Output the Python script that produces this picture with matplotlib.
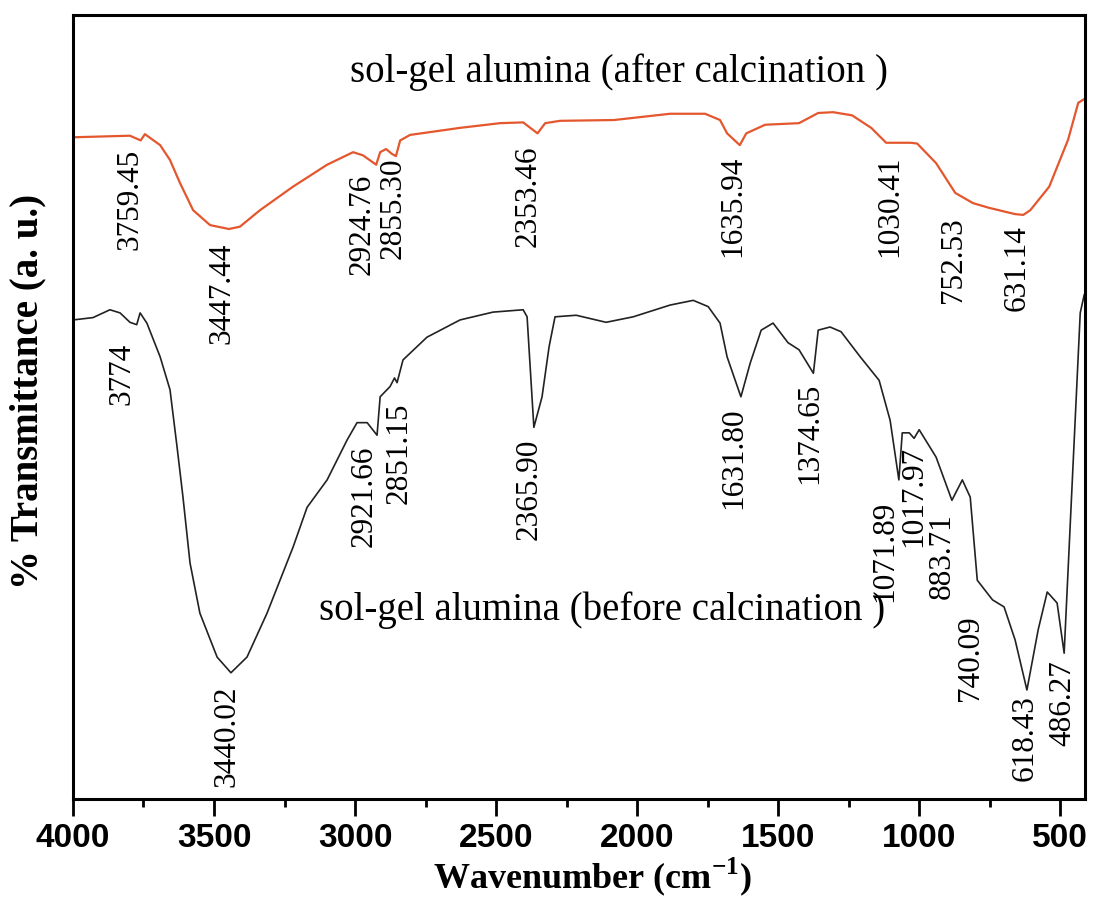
import matplotlib.pyplot as plt

# FTIR of sol-gel alumina, transmittance in arbitrary units
wn_after = [4000, 3798, 3760, 3745, 3691, 3656, 3621, 3574, 3514, 3447, 3408,
            3337, 3220, 3099, 3007, 2972, 2925, 2911, 2890, 2870, 2855, 2840,
            2805, 2628, 2486, 2404, 2353, 2326, 2273, 2082, 1883, 1759, 1706,
            1681, 1636, 1613, 1546, 1426, 1358, 1305, 1238, 1170, 1117, 1030,
            1007, 940, 872, 809, 752, 660, 631, 606, 539, 472, 436, 418]
t_after = [84.4, 84.6, 84.0, 84.8, 83.4, 81.5, 78.6, 75.1, 73.2, 72.7, 73.0,
           75.1, 78.1, 80.9, 82.5, 82.1, 80.9, 82.5, 82.9, 82.3, 82.0, 84.0,
           84.7, 85.6, 86.2, 86.3, 84.9, 86.2, 86.5, 86.6, 87.4, 87.4, 86.6,
           84.9, 83.4, 84.9, 86.0, 86.2, 87.5, 87.6, 87.2, 85.6, 83.7, 83.7,
           83.6, 81.1, 77.3, 76.0, 75.4, 74.6, 74.5, 75.1, 78.1, 84.1, 88.8, 89.2]

wn_before = [4000, 3929, 3869, 3833, 3798, 3774, 3762, 3738, 3691, 3656, 3631,
             3610, 3585, 3550, 3489, 3440, 3383, 3312, 3220, 3170, 3099, 3028,
             2993, 2957, 2922, 2911, 2876, 2860, 2851, 2830, 2745, 2628, 2511,
             2404, 2390, 2366, 2337, 2312, 2291, 2216, 2110, 2014, 1883, 1801,
             1748, 1706, 1681, 1632, 1599, 1560, 1518, 1465, 1426, 1397, 1375,
             1358, 1316, 1277, 1209, 1142, 1103, 1072, 1060, 1035, 1018, 1000,
             940, 884, 847, 819, 794, 740, 699, 660, 618, 578, 546, 511, 486,
             457, 429, 415]
t_before = [61.1, 61.4, 62.4, 62.0, 60.8, 60.5, 62.0, 60.7, 56.4, 52.2, 44.9,
            38.5, 30.1, 23.7, 18.1, 16.1, 18.1, 23.7, 32.1, 37.2, 40.7, 45.8,
            48.0, 48.0, 46.4, 51.3, 52.6, 53.7, 53.1, 56.0, 58.9, 61.1, 62.1,
            62.4, 61.5, 47.4, 51.3, 57.7, 61.5, 61.7, 60.8, 61.5, 63.0, 63.6,
            62.8, 60.7, 56.4, 51.3, 55.6, 59.8, 60.7, 58.2, 57.3, 55.6, 54.3,
            59.8, 60.2, 59.6, 56.4, 53.4, 48.3, 40.7, 46.7, 46.7, 46.0, 47.1,
            43.6, 38.1, 40.7, 38.5, 27.9, 25.4, 24.5, 20.3, 13.9, 21.6, 26.4,
            25.0, 18.6, 40.7, 62.0, 64.3]

# peak labels: (text, x position, top of label)
peaks_after = [("3759.45", 3798, 83.0), ("3447.44", 3472, 70.9),
               ("2924.76", 2975, 79.8), ("2855.30", 2865, 81.8),
               ("2353.46", 2387, 83.4), ("1635.94", 1660, 82.1),
               ("1030.41", 1103, 82.1), ("752.53", 879, 74.2),
               ("631.14", 652, 73.2)]
peaks_before = [("3774", 3826, 58.2), ("3440.02", 3454, 14.5),
                ("2921.66", 2968, 45.1), ("2851.15", 2844, 50.6),
                ("2365.90", 2383, 46.0), ("1631.80", 1656, 49.9),
                ("1374.65", 1387, 53.1), ("1071.89", 1121, 38.1),
                ("1017.97", 1018, 45.1), ("883.71", 918, 36.4),
                ("740.09", 819, 23.4), ("618.43", 624, 13.3),
                ("486.27", 489, 17.7)]

plt.rcParams['font.family'] = 'Liberation Serif'

fig = plt.figure(figsize=(10.94, 9.02), dpi=100)
ax = fig.add_axes([0.0667, 0.1142, 0.9251, 0.8692])

ax.plot(wn_after, t_after, color='#e4572e', lw=1.6)
ax.plot(wn_before, t_before, color='#222222', lw=1.2)

for txt, x, y in peaks_after + peaks_before:
    ax.text(x, y, txt, rotation=90, ha='center', va='top', fontsize=22.5)

ax.text(2064, 92.7, "sol-gel alumina (after calcination )", ha='center',
        va='center', fontsize=28)
ax.text(2124, 24.1, "sol-gel alumina (before calcination )", ha='center',
        va='center', fontsize=28)

ax.set_xlim(4000, 412)
ax.set_ylim(0, 100)
ax.set_xticks([4000, 3500, 3000, 2500, 2000, 1500, 1000, 500])
ax.set_xticks([3750, 3250, 2750, 2250, 1750, 1250, 750], minor=True)
ax.set_yticks([])
ax.tick_params(axis='x', which='major', length=12, width=2, direction='out',
               pad=5)
ax.tick_params(axis='x', which='minor', length=6, width=2, direction='out')
for lab in ax.get_xticklabels():
    lab.set_family('Liberation Sans')
    lab.set_fontweight('bold')
    lab.set_fontsize(24)
for s in ax.spines.values():
    s.set_linewidth(2.2)

ax.set_xlabel("Wavenumber (cm$^{\\mathregular{-1}}$)", fontsize=26,
              fontweight='bold')
ax.xaxis.set_label_coords(0.513, -0.072)
ax.set_ylabel("% Transmittance (a. u.)", fontsize=28, fontweight='bold')
ax.yaxis.set_label_coords(-0.026, 0.52)

fig.savefig("out.png", dpi=100)
